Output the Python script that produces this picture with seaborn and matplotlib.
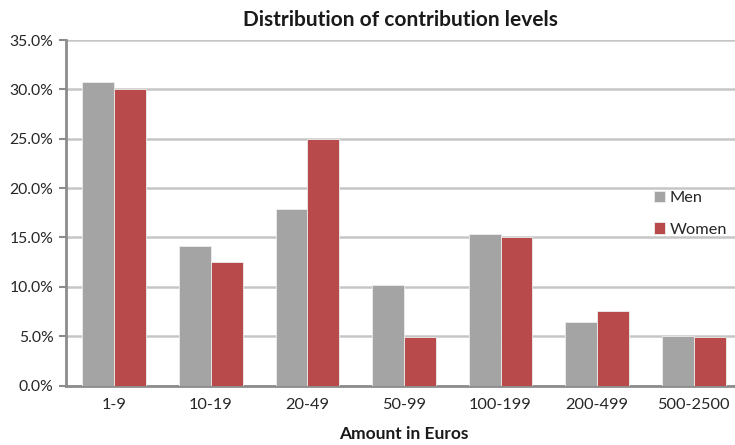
import matplotlib
matplotlib.use("Agg")
import matplotlib.pyplot as plt
import seaborn as sns
import pandas as pd
from matplotlib.ticker import FuncFormatter, FixedLocator

categories = ["1-9", "10-19", "20-49", "50-99", "100-199", "200-499", "500-2500"]
men = [30.8, 14.1, 17.9, 10.2, 15.3, 6.4, 5.0]
women = [30.0, 12.5, 25.0, 4.9, 15.0, 7.5, 4.9]
groups = ["Men", "Women"]

df = pd.DataFrame({
    "Amount": categories * 2,
    "Share": men + women,
    "Group": [groups[0]] * len(categories) + [groups[1]] * len(categories),
})

sns.set_style("white")
plt.rcParams["font.family"] = ["Lato", "DejaVu Sans"]

fig = plt.figure(figsize=(7.35, 4.45), dpi=100)
ax = fig.add_axes([0.0898, 0.1337, 0.9197, 0.7763])

palette = {"Men": "#A3A4A3", "Women": "#B84A4B"}
sns.barplot(data=df, x="Amount", y="Share", hue="Group", order=categories,
            hue_order=groups, palette=palette, width=0.66, saturation=1,
            edgecolor="#EDEDED", linewidth=0.6, ax=ax, zorder=3)

ax.set_xlim(-0.5, len(categories) - 0.5)
ax.set_ylim(0, 35)
ax.set_yticks([0, 5, 10, 15, 20, 25, 30, 35])
ax.yaxis.set_major_formatter(FuncFormatter(lambda v, _: f"{v:.1f}%"))
ax.yaxis.grid(True, color="#C6C6C6", linewidth=1.8, zorder=0)
ax.set_axisbelow(True)

ax.xaxis.set_minor_locator(FixedLocator([i - 0.5 for i in range(len(categories) + 1)]))
ax.tick_params(axis="x", which="major", length=0, pad=9, labelsize=11.8, labelcolor="#262626")
ax.tick_params(axis="x", which="minor", length=5, width=1.5, color="#8C8C8C", direction="out")
ax.tick_params(axis="y", which="major", length=5, width=1.5, color="#8C8C8C",
               direction="out", labelsize=11.3, labelcolor="#262626", left=True, pad=4)

for side in ["top", "right"]:
    ax.spines[side].set_visible(False)
for side in ["left", "bottom"]:
    ax.spines[side].set_color("#8C8C8C")
    ax.spines[side].set_linewidth(2)

ax.set_xlabel("Amount in Euros", fontsize=12.5, fontweight="bold", color="#1A1A1A", labelpad=10)
ax.set_ylabel("")
ax.set_title("Distribution of contribution levels", fontsize=15, fontweight="bold",
             color="#1A1A1A", pad=10, x=0.495)

handles, labels = ax.get_legend_handles_labels()
ax.legend(handles, labels, loc="upper left", bbox_to_anchor=(0.878, 0.59),
          bbox_transform=fig.transFigure, frameon=False, fontsize=11.8,
          handlelength=0.7, handleheight=0.7, handletextpad=0.3,
          labelspacing=1.05, borderpad=0)

fig.savefig("out.png", dpi=100)
